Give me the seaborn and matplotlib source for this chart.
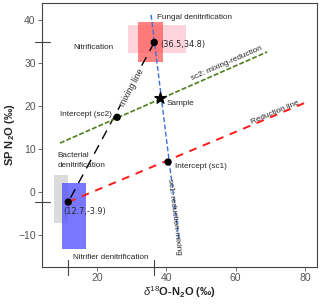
import matplotlib
matplotlib.use("Agg")
import matplotlib.pyplot as plt
import numpy as np
import pandas as pd
import seaborn as sns

# source boxes (x range, y range)
box_names = ["Nitrification", "Fungal denitrification", "Bacterial denitrification", "Nitrifier denitrification"]
box_x0 = [28.9, 31.8, 7.6, 9.9]
box_x1 = [45.7, 39.0, 11.6, 16.8]
box_y0 = [32.3, 30.2, -7.2, -13.3]
box_y1 = [38.8, 39.5, 3.9, 2.1]
box_colors = ["#FFD3DC", "#FF5A5A", "#D3D3D3", "#5555FF"]
box_alpha = [1.0, 0.75, 0.8, 0.8]

# end members and key points
fungal = (36.5, 34.8)
bacterial = (11.7, -2.3)
intercept_sc2 = (25.8, 17.4)
intercept_sc1 = (40.5, 7.0)
sample = (38.2, 21.9)

# line end points
mixing_x = [36.5, 11.7]
mixing_y = [34.8, -2.3]
sc1_x = [35.6, 43.7]
sc1_y = [41.2, -11.6]
sc2_x = [9.3, 69.1]
sc2_y = [11.4, 32.6]
red_x = [11.7, 79.8]
red_y = [-2.3, 20.7]

sns.set_theme(style="white")
plt.rcParams['font.family'] = ['Liberation Sans', 'DejaVu Sans']
plt.rcParams['mathtext.fontset'] = 'custom'
plt.rcParams['mathtext.rm'] = 'Liberation Sans'
plt.rcParams['mathtext.it'] = 'Liberation Sans:italic'
plt.rcParams['mathtext.bf'] = 'Liberation Sans:bold'

fig = plt.figure(figsize=(3.2, 3.05), dpi=100)
ax = fig.add_axes([0.131, 0.1246, 0.860, 0.866])

for x0, x1, y0, y1, c, a in zip(box_x0, box_x1, box_y0, box_y1, box_colors, box_alpha):
    ax.add_patch(plt.Rectangle((x0, y0), x1 - x0, y1 - y0, color=c, alpha=a, lw=0, zorder=1))

def dline(xs, ys, color, lw, dashes):
    sns.lineplot(x=xs, y=ys, ax=ax, color=color, lw=lw, sort=False,
                 estimator=None, dashes=False).lines[-1].set_dashes(dashes)

dline(mixing_x, mixing_y, "black", 1.0, (7, 5))
dline(sc1_x, sc1_y, "#3A6FD8", 1.0, (3.5, 1.8))
dline(sc2_x, sc2_y, "#4F7F1F", 1.2, (3, 1.2))
dline(red_x, red_y, "#FF1A1A", 1.4, (4, 3.5))

pts = pd.DataFrame({"x": [fungal[0], bacterial[0], intercept_sc2[0], intercept_sc1[0]],
                    "y": [fungal[1], bacterial[1], intercept_sc2[1], intercept_sc1[1]]})
sns.scatterplot(data=pts, x="x", y="y", ax=ax, color="black", s=28, edgecolor="none", zorder=5)
ax.scatter([sample[0]], [sample[1]], marker="*", s=70, color="black", zorder=6)

# rug-like marks at end members
gy = ax.get_yaxis_transform()
gx = ax.get_xaxis_transform()
for yv in [fungal[1], bacterial[1]]:
    ax.plot([-0.025, 0.03], [yv, yv], transform=gy, color="#444444", lw=0.8, clip_on=False)
for xv in [bacterial[0], fungal[0]]:
    ax.plot([xv, xv], [-0.03, 0.027], transform=gx, color="#444444", lw=0.8, clip_on=False)

fs = 5.9
ax.text(18.9, 33.7, "Nitrification", fontsize=fs, ha="center", va="center")
ax.text(37.4, 40.7, "Fungal denitrification", fontsize=fs, ha="left", va="center")
ax.text(38.2, 34.4, "(36.5,34.8)", fontsize=5.9, ha="left", va="center", family="DejaVu Sans")
ax.text(57.5, 30.0, "sc2: mixing-reduction", fontsize=fs, ha="center", va="center", rotation=23.7)
ax.text(40.2, 20.7, "Sample", fontsize=fs, ha="left", va="center")
ax.text(71.4, 18.4, "Reduction line", fontsize=fs, ha="center", va="center", rotation=22.8)
ax.text(24.3, 18.1, "Intercept (sc2)", fontsize=fs, ha="right", va="center")
ax.text(42.5, 6.0, "Intercept (sc1)", fontsize=fs, ha="left", va="center")
ax.text(42.2, -5.8, "sc1: reduction-mixing", fontsize=fs, ha="center", va="center", rotation=-83)
ax.text(8.7, 7.4, "Bacterial\ndenitrification", fontsize=fs, ha="left", va="center", linespacing=1.7)
ax.text(10.2, -4.6, "(12.7,-3.9)", fontsize=5.9, ha="left", va="center", family="DejaVu Sans")
ax.text(13.1, -15.1, "Nitrifier denitrification", fontsize=fs, ha="left", va="center")
ax.text(30.1, 24.4, "mixing line", fontsize=fs + 0.3, ha="center", va="center", rotation=61.7,
        bbox=dict(facecolor="white", edgecolor="none", pad=0.3))

ax.set_xlim(4.1, 83.5)
ax.set_ylim(-17.4, 44)
ax.set_xticks([20, 40, 60, 80])
ax.set_yticks([-10, 0, 10, 20, 30, 40])
ax.tick_params(axis="both", labelsize=7.5, labelcolor="#555555", color="#555555",
               length=3, width=0.6, direction="out", bottom=True, left=True, pad=1.5)
for s in ax.spines.values():
    s.set_color("#444444")
    s.set_linewidth(0.8)

ax.set_xlabel(r"$\delta^{18}$O-N$_\mathbf{2}$O (‰)", fontsize=8, fontweight="bold", labelpad=1)
ax.set_ylabel(r"SP N$_\mathbf{2}$O (‰)", fontsize=8, fontweight="bold", labelpad=1)

fig.savefig("out.png", dpi=100)
